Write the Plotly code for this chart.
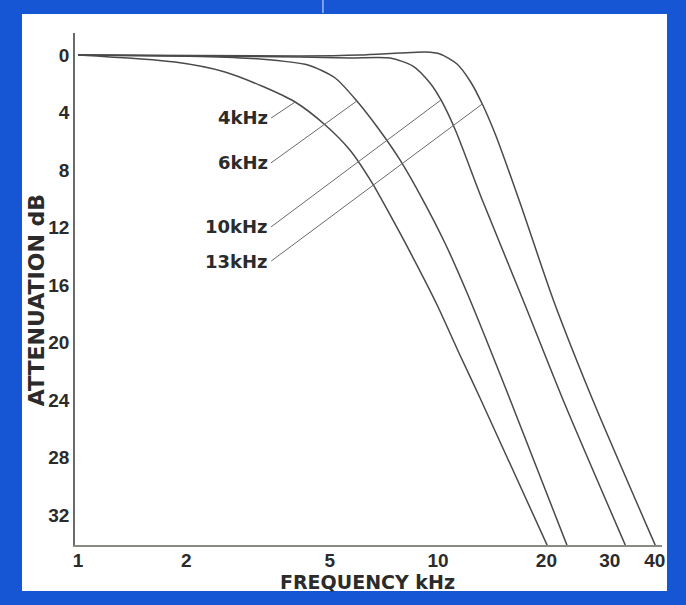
import numpy as np
import plotly.graph_objects as go

# ---- data (frequency in kHz, attenuation in dB) ----
freq_4k = [1.0, 1.86, 2.56, 3.24, 4.01, 4.86, 5.69, 6.56, 7.36, 8.36, 9.94, 11.5, 13.08, 20.09]
att_4k = [0.0, 0.49, 1.18, 2.16, 3.27, 4.87, 6.61, 8.90, 11.13, 13.7, 17.39, 20.87, 23.86, 34.1]

freq_6k = [1.0, 2.18, 3.2, 4.35, 5.18, 5.95, 6.81, 7.84, 9.08, 10.45, 12.11, 15.75, 22.8]
att_6k = [0.0, 0.1, 0.28, 0.7, 1.6, 3.2, 5.08, 7.3, 10.09, 13.08, 16.7, 23.79, 34.1]

freq_10k = [1.0, 2.18, 4.14, 5.69, 7.36, 8.52, 9.5, 10.19, 11.17, 13.27, 17.22, 22.25, 33.12]
att_10k = [0.0, 0.07, 0.14, 0.21, 0.21, 0.77, 1.95, 3.13, 5.22, 10.09, 17.04, 24.0, 34.1]

freq_13k = [1.0, 4.14, 6.07, 7.84, 9.22, 10.13, 11.29, 12.27, 13.27, 14.45, 16.9, 20.9, 26.9, 40.1]
att_13k = [0.0, 0.07, 0.0, -0.14, -0.21, -0.07, 0.63, 1.81, 3.41, 5.57, 10.3, 17.04, 24.0, 34.1]

curve_labels = ["4kHz", "6kHz", "10kHz", "13kHz"]
label_freq = [4.01, 5.95, 10.19, 13.27]
label_att = [3.27, 3.2, 3.13, 3.41]

x_tick_vals = [1, 2, 5, 10, 20, 30, 40]
x_tick_text = ["1", "2", "5", "10", "20", "30", "40"]
y_tick_vals = [0, 4, 8, 12, 16, 20, 24, 28, 32]

# ---- styling ----
BLUE = "#1656d4"
INK = "#2b2b2b"
CURVE = "#4a4a4a"
TICK_FONT = dict(family="Liberation Sans", size=19, color=INK, weight="bold")

fig = go.Figure()
for fx, fy in [(freq_4k, att_4k), (freq_6k, att_6k), (freq_10k, att_10k), (freq_13k, att_13k)]:
    fig.add_trace(go.Scatter(
        x=fx, y=fy, mode="lines",
        line=dict(color=CURVE, width=1.5, shape="spline", smoothing=0.7),
        hoverinfo="skip", showlegend=False,
    ))

# leader lines + curve labels
offsets = [(-24, 16), (-86, 62), (-170, 127), (-211, 157)]
for txt, f, a, (ax, ay) in zip(curve_labels, label_freq, label_att, offsets):
    fig.add_annotation(
        x=np.log10(f), y=a, xref="x", yref="y",
        text=txt, showarrow=True, arrowhead=0, arrowwidth=1, arrowcolor="#6a6a6a",
        ax=ax, ay=ay, axref="pixel", ayref="pixel",
        xanchor="right", yanchor="middle",
        font=dict(family="DejaVu Sans", size=18, color=INK, weight="bold"),
        borderpad=2,
    )

# axis titles
fig.add_annotation(x=0.499, y=-0.072, xref="paper", yref="paper", text="FREQUENCY kHz",
                   showarrow=False, xanchor="center", yanchor="middle",
                   font=dict(family="DejaVu Sans", size=19, color=INK, weight="bold"))
fig.add_annotation(x=-0.066, y=0.4785, xref="paper", yref="paper", text="ATTENUATION dB",
                   showarrow=False, textangle=-90, xanchor="center", yanchor="middle",
                   font=dict(family="DejaVu Sans", size=22, color=INK, weight="bold"))

# white page inside the blue frame
fig.add_shape(type="rect", xref="paper", yref="paper",
              x0=-0.0903, x1=1.0085, y0=-0.0898, y1=1.037,
              fillcolor="white", line=dict(width=0), layer="below")
# small break in the top of the blue frame
fig.add_shape(type="line", xref="paper", yref="paper",
              x0=0.4224, x1=0.4224, y0=1.039, y1=1.0645,
              line=dict(color="#9db7ec", width=1.5), layer="below")

fig.update_layout(
    width=686, height=605,
    margin=dict(l=75, r=24, t=33, b=60),
    paper_bgcolor=BLUE,
    plot_bgcolor="rgba(0,0,0,0)",
    showlegend=False,
)
fig.update_xaxes(
    type="log", range=[-0.0083, 1.622],
    tickvals=x_tick_vals, ticktext=x_tick_text, tickfont=TICK_FONT,
    showgrid=False, zeroline=False, ticks="", ticklabelstandoff=-3,
    showline=True, linecolor="#8a8a80", linewidth=2,
)
fig.update_yaxes(
    range=[34.09, -1.53],
    tickvals=y_tick_vals, tickfont=TICK_FONT,
    showgrid=False, zeroline=False, ticks="",
    showline=True, linecolor="#6a6a6a", linewidth=1.5,
)

fig.write_html(
    "out.html",
    config={"displayModeBar": False},
    post_script="document.body.style.margin='0';document.body.style.overflow='hidden';",
)
